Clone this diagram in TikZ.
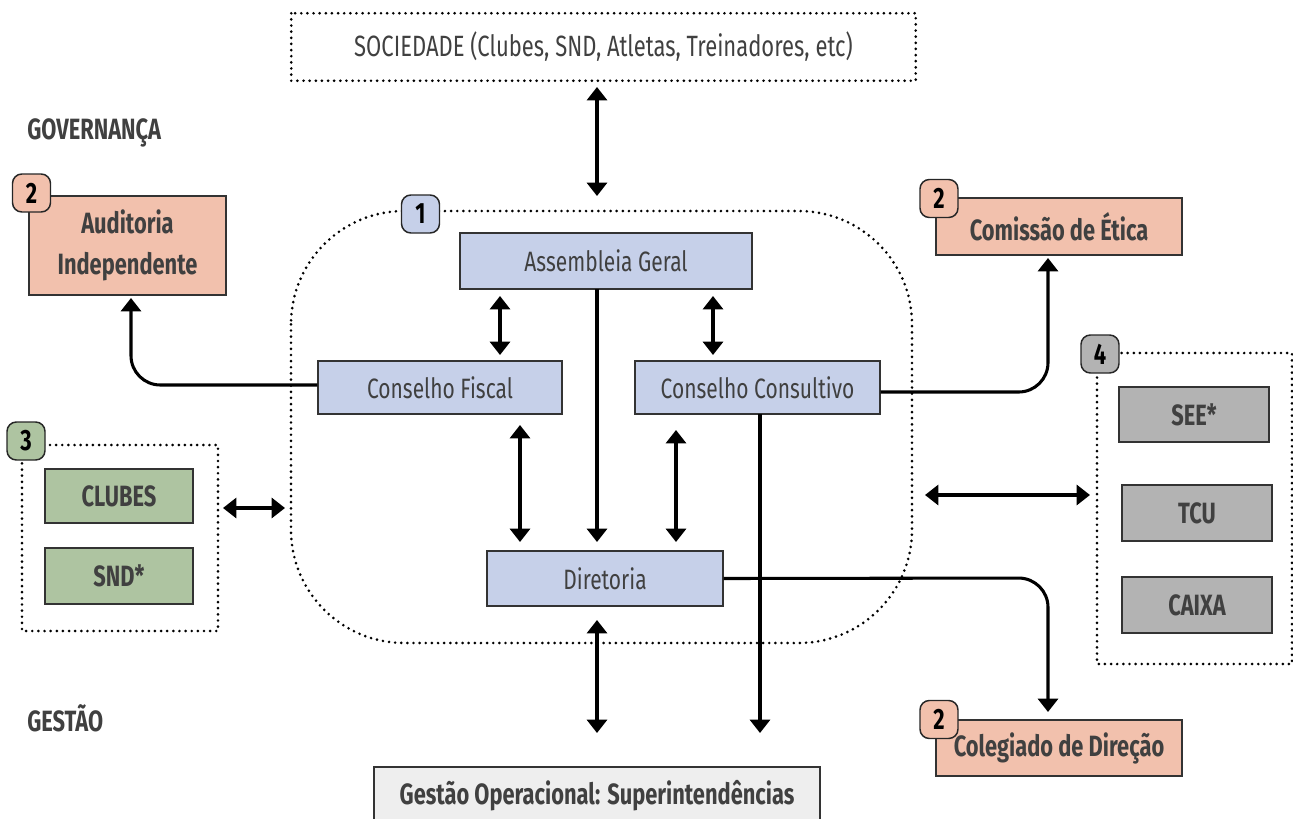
\documentclass[tikz,border=0pt]{standalone}
\usepackage{fontspec}
\setmainfont{Fira Sans}[FakeStretch=0.75, BoldFeatures={FakeStretch=0.745}]
\usetikzlibrary{arrows.meta}
\definecolor{txt}{HTML}{404040}
\definecolor{salmon}{HTML}{F2C1AD}
\definecolor{bluef}{HTML}{C6D0E9}
\definecolor{greenf}{HTML}{AEC4A1}
\definecolor{grayf}{HTML}{B3B3B3}
\definecolor{lightf}{HTML}{EEEEEE}
\tikzset{
  box/.style={draw=black!80, line width=1.1pt, inner sep=0pt, text=txt, font=\fontsize{21}{25}\selectfont, align=center},
  bbox/.style={box, font=\fontsize{22}{26}\selectfont\bfseries},
  badge/.style={draw=black!85, line width=1.1pt, rounded corners=7pt, minimum width=28.5pt, minimum height=28.5pt, inner sep=0pt, font=\fontsize{22}{24}\selectfont\bfseries, text=black},
  dots/.style={line width=2.2pt, line cap=round, dash pattern=on 0pt off 4.6pt, draw=black},
  conn/.style={line width=2.3pt, draw=black},
  tip/.tip={Triangle[width=15pt,length=10pt]},
  biarrow/.style={conn, tip-tip},
  oarrow/.style={conn, -tip},
  lbl/.style={text=txt, font=\fontsize{22}{26}\selectfont\bfseries, inner sep=0pt, anchor=west}
}
\begin{document}
\begin{tikzpicture}[x=0.75pt,y=-0.75pt]
\useasboundingbox (0,0) rectangle (1293,818);
% society
\node[box, draw=none, font=\fontsize{22}{26}\selectfont, minimum width={623*0.75pt}, minimum height={66*0.75pt}] (soc) at (603.5,47) {SOCIEDADE (Clubes, SND, Atletas, Treinadores, etc)};
\draw[dots] (soc.north west) rectangle (soc.south east);
% labels
\node[lbl] (gov) at (27,133) {GOVERNANÇA};
\node[lbl] (ges) at (27,718) {GESTÃO};
% big region
\draw[dots, rounded corners=85pt] (291,211) rectangle (912,643);
% central boxes
\node[box, fill=bluef, minimum width={292*0.75pt}, minimum height={56*0.75pt}] (ag) at (606,261) {Assembleia Geral};
\node[box, fill=bluef, minimum width={244*0.75pt}, minimum height={53*0.75pt}] (cf) at (440,387.5) {Conselho Fiscal};
\node[box, fill=bluef, minimum width={245*0.75pt}, minimum height={53*0.75pt}] (cc) at (757.5,387.5) {Conselho Consultivo};
\node[box, fill=bluef, minimum width={236*0.75pt}, minimum height={55*0.75pt}] (dir) at (605,578.5) {Diretoria};
\node[badge, fill=bluef] (b1) at (420.5,214) {1};
% gestão
\node[bbox, fill=lightf, minimum width={446*0.75pt}, minimum height={58*0.75pt}] (gop) at (597,796) {Gestão Operacional: Superintendências};
% salmon boxes
\node[bbox, fill=salmon, minimum width={197*0.75pt}, minimum height={99*0.75pt}, font=\fontsize{22}{31}\selectfont\bfseries] (aud) at (127.5,245.5) {Auditoria\\Independente};
\node[badge, fill=salmon] (b2a) at (31.5,193) {2};
\node[bbox, fill=salmon, minimum width={246*0.75pt}, minimum height={57*0.75pt}] (eti) at (1059,226.5) {Comissão de Ética};
\node[badge, fill=salmon] (b2b) at (939,198.5) {2};
\node[bbox, fill=salmon, minimum width={246*0.75pt}, minimum height={56*0.75pt}] (col) at (1059,748) {Colegiado de Direção};
\node[badge, fill=salmon] (b2c) at (939,719.5) {2};
% group 3
\draw[dots] (22,445) rectangle (218,631);
\node[bbox, fill=greenf, minimum width={148*0.75pt}, minimum height={54*0.75pt}] (clu) at (119,496) {CLUBES};
\node[bbox, fill=greenf, minimum width={148*0.75pt}, minimum height={56*0.75pt}] (snd) at (119,576) {SND*};
\node[badge, fill=greenf] (b3) at (26,441) {3};
% group 4
\draw[dots] (1097,353) rectangle (1292,664);
\node[bbox, fill=grayf, minimum width={150*0.75pt}, minimum height={55*0.75pt}] (see) at (1194,414.5) {SEE*};
\node[bbox, fill=grayf, minimum width={150*0.75pt}, minimum height={56*0.75pt}] (tcu) at (1197,513) {TCU};
\node[bbox, fill=grayf, minimum width={150*0.75pt}, minimum height={56*0.75pt}] (cai) at (1197,605) {CAIXA};
\node[badge, fill=grayf] (b4) at (1100,354) {4};
% connector end points
\coordinate (s1) at (597,87);   \coordinate (s2) at (597,196);
\coordinate (a1) at (500,296);  \coordinate (a2) at (500,355);
\coordinate (a3) at (713,296);  \coordinate (a4) at (713,355);
\coordinate (a5) at (597,289);  \coordinate (a6) at (597,542);
\coordinate (f1) at (520,425);  \coordinate (f2) at (520,542);
\coordinate (c1) at (676,430);  \coordinate (c2) at (676,542);
\coordinate (c3) at (760,414);  \coordinate (ccend) at (760,733);
\coordinate (d1) at (597,620);  \coordinate (dirend) at (597,733);
\coordinate (g1) at (223,508);  \coordinate (g2) at (285,508);
\coordinate (h1) at (925,495);  \coordinate (h2) at (1090,495);
% connectors
\draw[biarrow] (s1) -- (s2);
\draw[biarrow] (a1) -- (a2);
\draw[biarrow] (a3) -- (a4);
\draw[oarrow] (a5) -- (a6);
\draw[biarrow] (f1) -- (f2);
\draw[biarrow] (c1) -- (c2);
\draw[oarrow] (c3) -- (ccend);
\draw[biarrow] (d1) -- (dirend);
\draw[oarrow, rounded corners=22pt] (cf.west |- 0,385) -- (131,385) -- (131,298);
\draw[oarrow, rounded corners=22pt] (cc.east |- 0,392) -- (1048,392) -- (1048,258);
\draw[oarrow, rounded corners=22pt] (dir.east) -- (1048,578) -- (1048,712);
\draw[biarrow] (g1) -- (g2);
\draw[biarrow] (h1) -- (h2);
\end{tikzpicture}
\end{document}
